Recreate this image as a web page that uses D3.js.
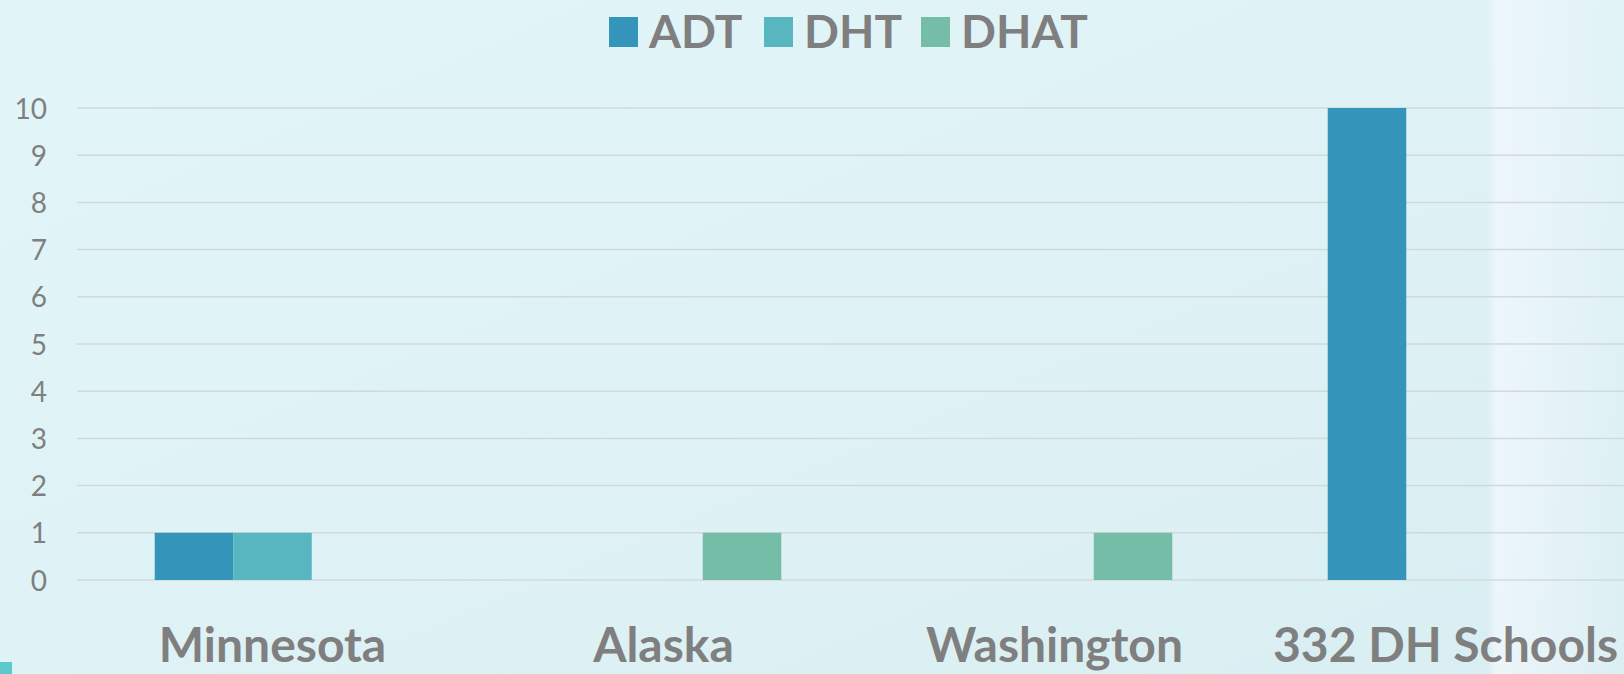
<!DOCTYPE html>
<html>
<head>
<meta charset="utf-8">
<script src="https://cdn.jsdelivr.net/npm/d3@7"></script>
<style>
  body { margin: 0; overflow: hidden; }
  svg { display: block; }
  text { font-family: Lato, "Open Sans", sans-serif; fill: #7f7f7f; }
</style>
</head>
<body>
<div id="chart"></div>
<script>
var categories = ["Minnesota", "Alaska", "Washington", "332 DH Schools"];
var seriesNames = ["ADT", "DHT", "DHAT"];
var adt = [1, 0, 0, 10];
var dht = [1, 0, 0, 0];
var dhat = [0, 1, 1, 0];
var yTicks = [0, 1, 2, 3, 4, 5, 6, 7, 8, 9, 10];
var colors = ["#3494ba", "#58b6c0", "#75bda7"];

var width = 1624, height = 674;
var plotLeft = 77, plotRight = 1641, plotTop = 108, plotBottom = 580;

var svg = d3.select("#chart").append("svg")
  .attr("width", width)
  .attr("height", height);

// background
var defs = svg.append("defs");
var bg = defs.append("linearGradient").attr("id", "bg")
  .attr("x1", "0").attr("y1", "0").attr("x2", "1").attr("y2", "1");
bg.append("stop").attr("offset", "0%").attr("stop-color", "#e2f6f9");
bg.append("stop").attr("offset", "60%").attr("stop-color", "#def2f5");
bg.append("stop").attr("offset", "100%").attr("stop-color", "#d9eef2");
svg.append("rect").attr("width", width).attr("height", height).attr("fill", "url(#bg)");

var streak = defs.append("linearGradient").attr("id", "streak")
  .attr("x1", "0").attr("y1", "0").attr("x2", "1").attr("y2", "0");
streak.append("stop").attr("offset", "0%").attr("stop-color", "#eef6fb").attr("stop-opacity", 0);
streak.append("stop").attr("offset", "6%").attr("stop-color", "#eef6fb").attr("stop-opacity", 0.9);
streak.append("stop").attr("offset", "40%").attr("stop-color", "#eef6fb").attr("stop-opacity", 0.6);
streak.append("stop").attr("offset", "100%").attr("stop-color", "#eef6fb").attr("stop-opacity", 0.1);
svg.append("rect").attr("x", 1488).attr("y", 0).attr("width", 136).attr("height", height)
  .attr("fill", "url(#streak)");

// small teal corner mark
svg.append("rect").attr("x", 0).attr("y", 662).attr("width", 12).attr("height", 12).attr("fill", "#5cc9cf");

var x0 = d3.scaleBand().domain(categories).range([plotLeft, plotRight]).padding(0);
var x1 = d3.scaleBand().domain(seriesNames).range([0, x0.bandwidth()]).paddingInner(0).paddingOuter(0.99);
var y = d3.scaleLinear().domain([0, 10]).range([plotBottom, plotTop]);

// gridlines
svg.append("g").selectAll("line")
  .data(yTicks).enter()
  .append("line")
  .attr("x1", plotLeft).attr("x2", width)
  .attr("y1", d => y(d)).attr("y2", d => y(d))
  .attr("stroke", "#d3d9da")
  .attr("stroke-width", 1.5);

// y axis labels
var yAxis = d3.axisLeft(y).tickValues(yTicks).tickSize(0).tickPadding(0);
var gy = svg.append("g")
  .attr("transform", "translate(47,0)")
  .call(yAxis);
gy.select(".domain").remove();
gy.selectAll("text")
  .attr("fill", "#7f7f7f")
  .style("font-size", "28px")
  .attr("dy", "0.36em");

// bars
var values = categories.map((c, i) => ({
  cat: c,
  vals: [adt[i], dht[i], dhat[i]]
}));

var groups = svg.append("g").selectAll("g")
  .data(values).enter()
  .append("g")
  .attr("transform", d => `translate(${x0(d.cat)},0)`);

groups.selectAll("rect")
  .data(d => d.vals.map((v, j) => ({ name: seriesNames[j], v: v, j: j })).filter(e => e.v > 0))
  .enter()
  .append("rect")
  .attr("x", d => x1(d.name))
  .attr("width", x1.bandwidth())
  .attr("y", d => y(d.v))
  .attr("height", d => y(0) - y(d.v))
  .attr("fill", d => colors[d.j]);

// x labels
var xAxis = d3.axisBottom(x0).tickSize(0).tickPadding(0);
var gx = svg.append("g")
  .attr("transform", "translate(0,662)")
  .call(xAxis);
gx.select(".domain").remove();
gx.selectAll("text")
  .attr("fill", "#7f7f7f")
  .attr("y", 0)
  .attr("dy", 0)
  .style("font-size", "48px")
  .style("font-weight", "bold");

// legend
var legendX = [609, 764, 921];
var legend = svg.append("g").selectAll("g")
  .data(seriesNames).enter()
  .append("g")
  .attr("transform", (d, i) => `translate(${legendX[i]},17)`);
legend.append("rect")
  .attr("width", 29).attr("height", 30)
  .attr("fill", (d, i) => colors[i]);
legend.append("text")
  .attr("x", 40).attr("y", 31)
  .style("font-size", "46px")
  .style("font-weight", "bold")
  .text(d => d);
</script>
</body>
</html>
